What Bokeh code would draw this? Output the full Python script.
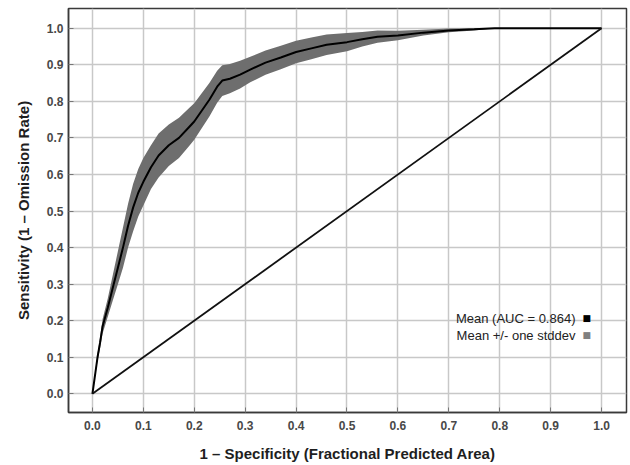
import numpy as np
from bokeh.plotting import figure
from bokeh.models import ColumnDataSource, Label, FixedTicker, Range1d, NumeralTickFormatter
from bokeh.embed import file_html
from bokeh.resources import INLINE

# --- data ---
fpr = [0.0, 0.005, 0.01, 0.015, 0.02, 0.03, 0.04, 0.05, 0.06, 0.07, 0.08, 0.09,
       0.10, 0.115, 0.13, 0.15, 0.17, 0.19, 0.20, 0.215, 0.23, 0.245, 0.255, 0.27,
       0.29, 0.31, 0.34, 0.37, 0.40, 0.43, 0.46, 0.50, 0.53, 0.56, 0.60, 0.65,
       0.70, 0.75, 0.79, 0.85, 0.90, 1.0]
tpr_mean = [0.0, 0.05, 0.10, 0.14, 0.185, 0.235, 0.29, 0.345, 0.40, 0.46, 0.51, 0.55,
            0.58, 0.62, 0.652, 0.68, 0.70, 0.73, 0.745, 0.775, 0.805, 0.84, 0.857, 0.862,
            0.873, 0.887, 0.906, 0.92, 0.935, 0.945, 0.955, 0.962, 0.970, 0.977, 0.980, 0.988,
            0.994, 0.997, 1.0, 1.0, 1.0, 1.0]
tpr_sd = [0.0, 0.005, 0.01, 0.015, 0.02, 0.025, 0.035, 0.045, 0.055, 0.06, 0.065, 0.065,
          0.065, 0.06, 0.06, 0.057, 0.055, 0.052, 0.05, 0.048, 0.046, 0.044, 0.042, 0.04,
          0.038, 0.035, 0.033, 0.032, 0.031, 0.03, 0.028, 0.025, 0.02, 0.017, 0.013, 0.008,
          0.005, 0.003, 0.0, 0.0, 0.0, 0.0]
diag_x = [0.0, 1.0]
diag_y = [0.0, 1.0]
ticks = [0.0, 0.1, 0.2, 0.3, 0.4, 0.5, 0.6, 0.7, 0.8, 0.9, 1.0]
auc = 0.864

mean = np.array(tpr_mean)
sd = np.array(tpr_sd)
src = ColumnDataSource(dict(x=fpr, y=tpr_mean,
                            lo=np.clip(mean - sd, 0, 1),
                            hi=np.clip(mean + sd, 0, 1)))

p = figure(frame_width=558, frame_height=404,
           x_range=Range1d(-0.047, 1.049), y_range=Range1d(-0.051, 1.054),
           output_backend="svg", toolbar_location=None,
           min_border_left=68, min_border_right=2, min_border_top=8, min_border_bottom=0,
           background_fill_color="white", border_fill_color="white")

p.varea(x="x", y1="lo", y2="hi", source=src, fill_color="#6e6e6e", fill_alpha=1)
p.line(x="x", y="y", source=src, line_color="black", line_width=2)
p.line(diag_x, diag_y, line_color="#111111", line_width=1.8)

p.outline_line_color = "#3a3a3a"
p.outline_line_width = 1.5

for ax in (p.xaxis[0], p.yaxis[0]):
    ax.ticker = FixedTicker(ticks=ticks)
    ax.formatter = NumeralTickFormatter(format="0.0")
    ax.major_tick_in = 5
    ax.major_tick_out = 0
    ax.minor_tick_line_color = None
    ax.major_tick_line_color = "#777777"
    ax.axis_line_color = "#3a3a3a"
    ax.axis_line_width = 1.5
    ax.major_label_text_font = "Liberation Sans"
    ax.major_label_text_font_style = "bold"
    ax.major_label_text_font_size = "12px"
    ax.major_label_text_color = "#484848"
    ax.axis_label_text_font = "Liberation Sans"
    ax.axis_label_text_font_style = "bold"
    ax.axis_label_text_font_size = "15px"
    ax.axis_label_text_color = "#1e1e1e"

p.xaxis[0].axis_label = "1 – Specificity (Fractional Predicted Area)"
p.yaxis[0].axis_label = "Sensitivity (1 – Omission Rate)"
p.xaxis[0].major_label_standoff = 8
p.xaxis[0].axis_label_standoff = 12
p.yaxis[0].major_label_standoff = 5
p.yaxis[0].axis_label_standoff = 12

for g in (p.xgrid[0], p.ygrid[0]):
    g.ticker = FixedTicker(ticks=ticks)
    g.grid_line_color = "#c8c8c8"
    g.grid_line_width = 1.5

# legend (glyph on the right, as in the reference)
lab_font = "Liberation Sans"
p.add_layout(Label(x=507, y=94, x_units="screen", y_units="screen",
                   text=f"Mean (AUC = {auc:.3f})", text_align="right", text_baseline="middle",
                   text_font=lab_font, text_font_size="13px", text_color="#222222"))
p.add_layout(Label(x=507, y=77, x_units="screen", y_units="screen",
                   text="Mean +/- one stddev", text_align="right", text_baseline="middle",
                   text_font=lab_font, text_font_size="13px", text_color="#222222"))
p.add_layout(Label(x=514, y=95, x_units="screen", y_units="screen",
                   text="■", text_align="left", text_baseline="middle",
                   text_font="DejaVu Sans", text_font_size="9px", text_color="black"))
p.add_layout(Label(x=514, y=78, x_units="screen", y_units="screen",
                   text="■", text_align="left", text_baseline="middle",
                   text_font="DejaVu Sans", text_font_size="9px", text_color="#808080"))

open("out.html", "w").write(file_html(p, INLINE))
